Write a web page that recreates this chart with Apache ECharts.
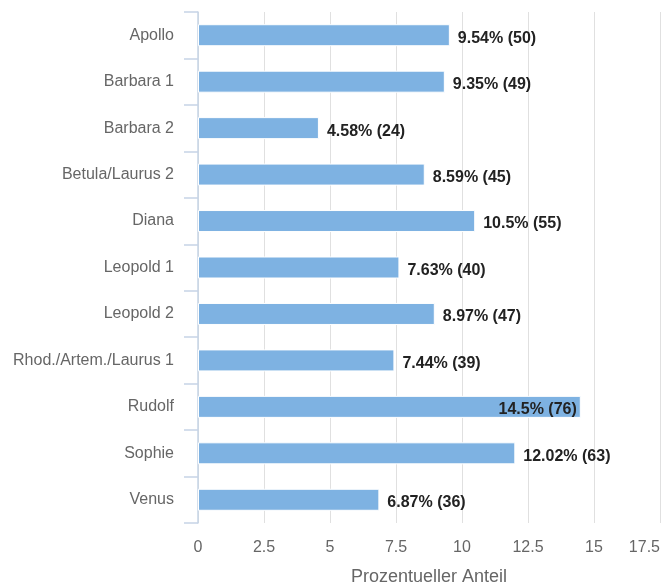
<!DOCTYPE html>
<html>
<head>
<meta charset="utf-8">
<script src="https://cdn.jsdelivr.net/npm/echarts@6/dist/echarts.min.js"></script>
<style>
  html, body { margin: 0; padding: 0; background: #fff; }
  #chart { width: 662px; height: 583px; }
</style>
</head>
<body>
<div id="chart"></div>
<script>
// Anteil je Gruppe in Prozent, mit absoluter Anzahl
const categories = ['Apollo', 'Barbara 1', 'Barbara 2', 'Betula/Laurus 2', 'Diana', 'Leopold 1',
  'Leopold 2', 'Rhod./Artem./Laurus 1', 'Rudolf', 'Sophie', 'Venus'];
const percentValues = [9.54, 9.35, 4.58, 8.59, 10.5, 7.63, 8.97, 7.44, 14.5, 12.02, 6.87];
const counts = [50, 49, 24, 45, 55, 40, 47, 39, 76, 63, 36];
const xTicks = { min: 0, max: 17.5, interval: 2.5 };

const FONT = '"Liberation Sans", Arial, sans-serif';

// Labels that would run past the right edge go inside the bar end
const seriesData = percentValues.map((v, i) => {
  const item = { value: v };
  if (v > 14) {
    item.label = { position: 'insideRight', distance: 4 };
  }
  return item;
});

const chart = echarts.init(document.getElementById('chart'), null, { renderer: 'canvas' });
chart.setOption({
  animation: false,
  grid: { left: 198, right: 2, top: 12, bottom: 60, containLabel: false, outerBoundsMode: 'none' },
  xAxis: {
    type: 'value',
    min: xTicks.min,
    max: xTicks.max,
    interval: xTicks.interval,
    name: 'Prozentueller Anteil',
    nameLocation: 'middle',
    nameGap: 45,
    nameTextStyle: { color: '#666666', fontSize: 18, fontFamily: FONT },
    axisLine: { show: false },
    axisTick: { show: false },
    axisLabel: { color: '#666666', fontSize: 16, fontFamily: FONT, margin: 17, alignMaxLabel: 'right' },
    splitLine: { show: true, lineStyle: { color: '#e0e0e0', width: 1 } }
  },
  yAxis: {
    type: 'category',
    data: categories,
    inverse: true,
    axisLine: { show: true, lineStyle: { color: '#c6d4e6', width: 1.5 } },
    axisTick: { show: true, length: 14, lineStyle: { color: '#c6d4e6', width: 1.5 } },
    axisLabel: { color: '#666666', fontSize: 16, fontFamily: FONT, margin: 24 },
    splitLine: { show: false }
  },
  series: [{
    type: 'bar',
    data: seriesData,
    barWidth: 22,
    itemStyle: { color: '#7eb2e2', borderColor: '#ffffff', borderWidth: 1 },
    label: {
      show: true,
      position: 'right',
      distance: 8,
      offset: [0, 3],
      color: '#222222',
      fontWeight: 'bold',
      fontSize: 16,
      fontFamily: FONT,
      formatter: p => percentValues[p.dataIndex] + '% (' + counts[p.dataIndex] + ')'
    }
  }]
});
</script>
</body>
</html>
